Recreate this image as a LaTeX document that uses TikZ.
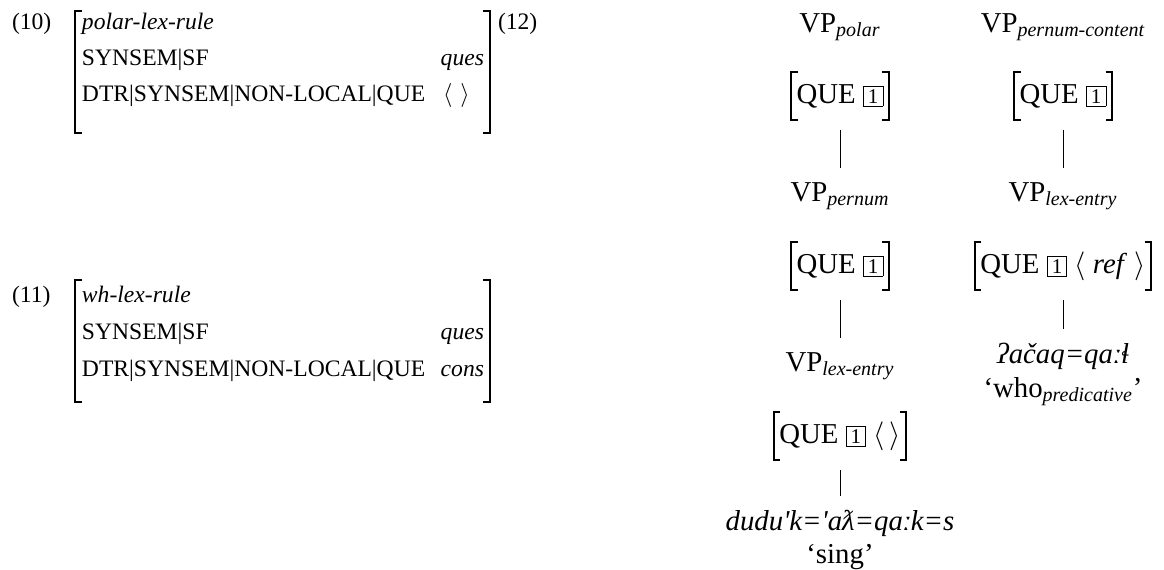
\documentclass[tikz,border=0pt]{standalone}
\usepackage{amsmath}
\usepackage{fontspec}
\setmainfont{Liberation Serif}
\newfontfamily\ipafont[Ligatures=TeXOff]{Liberation Serif}
\newcommand\avmsize{\fontsize{11.8pt}{14pt}\selectfont}
\newcommand\treesize{\fontsize{14.4pt}{17pt}\selectfont}
\newcommand\tagone{{\setlength\fboxsep{1.2pt}\setlength\fboxrule{0.45pt}\fbox{\makebox[7pt]{\fontsize{10.5pt}{10.5pt}\selectfont 1}}}}
\begin{document}
\begin{tikzpicture}[x=0.5pt,y=-0.5pt,
  every node/.style={inner sep=0pt,outer sep=0pt},
  avm/.style={font=\avmsize},
  tree/.style={font=\treesize},
  fs/.style={font=\treesize,inner xsep=2.7pt,minimum height=24pt},
  brk/.style={line width=0.75pt},
  edge/.style={line width=0.5pt,shorten <=5pt,shorten >=7pt}]
\useasboundingbox (0,0) rectangle (1164,569);

% ---------- (10)
\node[avm,anchor=base west] (n10) at (12,29) {(10)};
\node[avm,anchor=base west] (a10t) at (82,29) {\textit{polar-lex-rule}};
\node[avm,anchor=base west] (a10f1) at (82,65) {SYNSEM|SF};
\node[avm,anchor=base west] (a10f2) at (82,101) {DTR|SYNSEM|NON-LOCAL|QUE};
\node[avm,anchor=base east] (a10v1) at (484,65) {\textit{ques}};
\node[avm,anchor=base west] (a10v2) at (443,101) {$\langle\hspace{4pt}\rangle$};
\draw[brk] (82,11) -- (75,11) -- (75,133) -- (82,133);
\draw[brk] (483,11) -- (490,11) -- (490,133) -- (483,133);

% ---------- (11)
\node[avm,anchor=base west] (n11) at (12,302) {(11)};
\node[avm,anchor=base west] (a11t) at (82,302) {\textit{wh-lex-rule}};
\node[avm,anchor=base west] (a11f1) at (82,339) {SYNSEM|SF};
\node[avm,anchor=base west] (a11f2) at (82,376) {DTR|SYNSEM|NON-LOCAL|QUE};
\node[avm,anchor=base east] (a11v1) at (484,339) {\textit{ques}};
\node[avm,anchor=base east] (a11v2) at (484,376) {\textit{cons}};
\draw[brk] (82,280) -- (75,280) -- (75,402) -- (82,402);
\draw[brk] (483,280) -- (490,280) -- (490,402) -- (483,402);

% ---------- (12)
\node[avm,anchor=base west] (n12) at (498,29) {(12)};

% left tree
\node[tree,anchor=base] (vp1) at (840,32) {VP$_{\textit{polar}}$};
\node[fs] (q1) at (840,96) {QUE \tagone};
\node[tree,anchor=base] (vp2) at (840,201) {VP$_{\textit{pernum}}$};
\node[fs] (q2) at (840,266) {QUE \tagone};
\node[tree,anchor=base] (vp3) at (840,371) {VP$_{\textit{lex-entry}}$};
\node[fs] (q3) at (840,436) {QUE \tagone\ $\langle\,\rangle$};
\node[tree,anchor=base] (w1) at (840,530) {\ipafont\itshape dudu'k='aƛ=qaːk=s};
\node[tree,anchor=base] (g1) at (840,563) {`sing'};

% right tree
\node[tree,anchor=base] (vp1r) at (1063,32) {VP$_{\textit{pernum-content}}$};
\node[fs] (q1r) at (1063,96) {QUE \tagone};
\node[tree,anchor=base] (vp2r) at (1063,201) {VP$_{\textit{lex-entry}}$};
\node[fs] (q2r) at (1063,266) {QUE \tagone\ $\langle$ \textit{ref} $\rangle$};
\node[tree,anchor=base] (w2) at (1063,363) {\itshape ʔačaq=qaːɬ};
\node[tree,anchor=base] (g2) at (1063,397) {`who$_{\textit{predicative}}$'};

% brackets of the feature structures
\foreach \n in {q1,q2,q3,q1r,q2r}{
  \draw[brk] ([xshift=3.2pt]\n.north west) -- (\n.north west) -- (\n.south west) -- ([xshift=3.2pt]\n.south west);
  \draw[brk] ([xshift=-3.2pt]\n.north east) -- (\n.north east) -- (\n.south east) -- ([xshift=-3.2pt]\n.south east);
}

% connectors
\draw[edge] (q1) -- (vp2);
\draw[edge] (q2) -- (vp3);
\draw[edge] (q3) -- (w1);
\draw[edge] (q1r) -- (vp2r);
\draw[edge] (q2r) -- (w2);
\end{tikzpicture}
\end{document}
